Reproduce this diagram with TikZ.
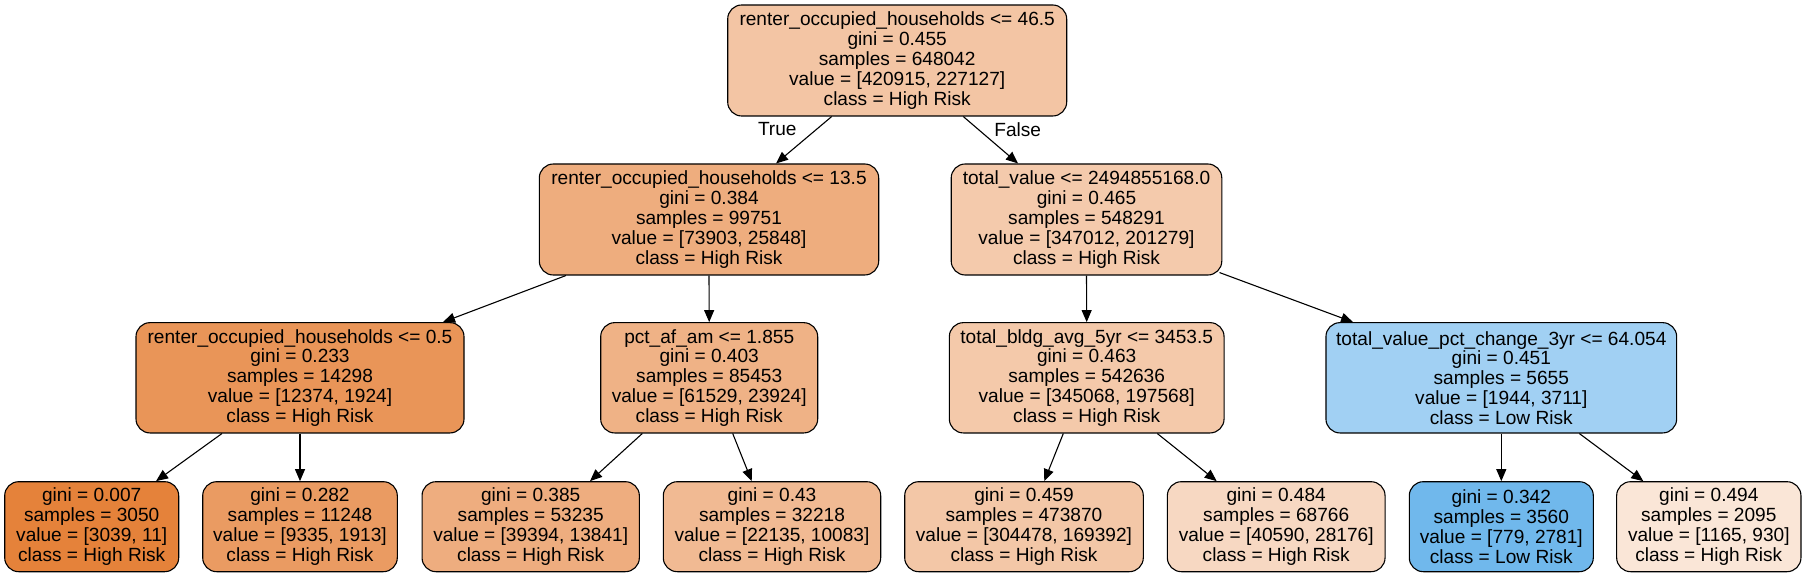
\documentclass[tikz,border=0pt]{standalone}
\usepackage{fontspec}
\setmainfont{Liberation Sans}
\usetikzlibrary{arrows.meta,calc}
\definecolor{c0}{RGB}{243,197,164}
\definecolor{c1}{RGB}{238,173,126}
\definecolor{c2}{RGB}{244,202,172}
\definecolor{c3}{RGB}{233,149,88}
\definecolor{c4}{RGB}{239,178,134}
\definecolor{c5}{RGB}{244,201,170}
\definecolor{c6}{RGB}{161,208,243}
\definecolor{c7}{RGB}{229,130,58}
\definecolor{c8}{RGB}{234,155,98}
\definecolor{c9}{RGB}{238,173,127}
\definecolor{c10}{RGB}{241,186,147}
\definecolor{c11}{RGB}{243,199,167}
\definecolor{c12}{RGB}{247,216,194}
\definecolor{c13}{RGB}{112,184,236}
\definecolor{c14}{RGB}{250,230,215}
\begin{document}
\begin{tikzpicture}[x=1pt,y=-1pt,
  treebox/.style={draw=black,line width=1.1pt,rounded corners=14pt,align=center,
    inner sep=0pt,font=\fontsize{19.1}{19.8}\selectfont,anchor=center},
  inner/.style={treebox,minimum height=111pt},
  leaf/.style={treebox,minimum height=90pt},
  edge/.style={line width=1.1pt,-{Triangle[length=12pt,width=10pt]}},
  elabel/.style={font=\fontsize{19.1}{19.8}\selectfont,inner sep=0pt}]
\useasboundingbox (0,0) rectangle (1807,577);
\node[inner,fill=c0,minimum width=339pt] (root) at (897.2,60.5)
  {renter\_occupied\_households <= 46.5\\gini = 0.455\\samples = 648042\\value = [420915, 227127]\\class = High Risk};
\node[inner,fill=c1,minimum width=339.4pt] (l1l) at (709,219.5)
  {renter\_occupied\_households <= 13.5\\gini = 0.384\\samples = 99751\\value = [73903, 25848]\\class = High Risk};
\node[inner,fill=c2,minimum width=270.6pt] (l1r) at (1086.5,219.5)
  {total\_value <= 2494855168.0\\gini = 0.465\\samples = 548291\\value = [347012, 201279]\\class = High Risk};
\node[inner,fill=c3,minimum width=328pt,minimum height=110.3pt] (l2a) at (300,377.8)
  {renter\_occupied\_households <= 0.5\\gini = 0.233\\samples = 14298\\value = [12374, 1924]\\class = High Risk};
\node[inner,fill=c4,minimum width=217pt,minimum height=110.3pt] (l2b) at (709.2,377.8)
  {pct\_af\_am <= 1.855\\gini = 0.403\\samples = 85453\\value = [61529, 23924]\\class = High Risk};
\node[inner,fill=c5,minimum width=274.7pt,minimum height=110.3pt] (l2c) at (1086.7,377.8)
  {total\_bldg\_avg\_5yr <= 3453.5\\gini = 0.463\\samples = 542636\\value = [345068, 197568]\\class = High Risk};
\node[inner,fill=c6,minimum width=350.7pt,minimum height=110.3pt] (l2d) at (1501.3,377.8)
  {total\_value\_pct\_change\_3yr <= 64.054\\gini = 0.451\\samples = 5655\\value = [1944, 3711]\\class = Low Risk};
\node[leaf,fill=c7,minimum width=174pt] (f1) at (91.7,526.7)
  {gini = 0.007\\samples = 3050\\value = [3039, 11]\\class = High Risk};
\node[leaf,fill=c8,minimum width=194.6pt] (f2) at (300,526.7)
  {gini = 0.282\\samples = 11248\\value = [9335, 1913]\\class = High Risk};
\node[leaf,fill=c9,minimum width=217.3pt] (f3) at (530.7,526.7)
  {gini = 0.385\\samples = 53235\\value = [39394, 13841]\\class = High Risk};
\node[leaf,fill=c10,minimum width=217.4pt] (f4) at (772,526.7)
  {gini = 0.43\\samples = 32218\\value = [22135, 10083]\\class = High Risk};
\node[leaf,fill=c11,minimum width=238.6pt] (f5) at (1024,526.7)
  {gini = 0.459\\samples = 473870\\value = [304478, 169392]\\class = High Risk};
\node[leaf,fill=c12,minimum width=217.7pt] (f6) at (1276.2,526.7)
  {gini = 0.484\\samples = 68766\\value = [40590, 28176]\\class = High Risk};
\node[leaf,fill=c13,minimum width=184pt] (f7) at (1501.3,526.7)
  {gini = 0.342\\samples = 3560\\value = [779, 2781]\\class = Low Risk};
\node[leaf,fill=c14,minimum width=184.3pt] (f8) at (1708.8,526.7)
  {gini = 0.494\\samples = 2095\\value = [1165, 930]\\class = High Risk};
\node[elabel] (ltrue) at (777.3,129.3) {True};
\node[elabel] (lfalse) at (1017.7,129.3) {False};
\draw[edge] ($(root.south)+(-65.5,0)$) -- ($(l1l.north)+(67,0)$);
\draw[edge] ($(root.south)+(66.1,0)$) -- ($(l1r.north)+(-68.5,0)$);
\draw[edge] ($(l1l.south)+(-143.1,0)$) -- ($(l2a.north)+(143,0)$);
\draw[edge] (l1l.south) -- (l2b.north);
\draw[edge] (l1r.south) -- (l2c.north);
\draw[edge] ($(l1r.south)+(133,-3)$) -- ($(l2d.north)+(-148.3,0)$);
\draw[edge] ($(l2a.south)+(-78,0)$) -- ($(f1.north)+(64.3,0)$);
\draw[edge] (l2a.south) -- (f2.north);
\draw[edge] ($(l2b.south)+(-66.9,0)$) -- ($(f3.north)+(59.3,0)$);
\draw[edge] ($(l2b.south)+(23.5,0)$) -- ($(f4.north)+(-20.3,0)$);
\draw[edge] ($(l2c.south)+(-23.4,0)$) -- ($(f5.north)+(20.3,0)$);
\draw[edge] ($(l2c.south)+(70.6,0)$) -- ($(f6.north)+(-59.5,0)$);
\draw[edge] (l2d.south) -- (f7.north);
\draw[edge] ($(l2d.south)+(78,0)$) -- ($(f8.north)+(-65.5,0)$);
\end{tikzpicture}
\end{document}
